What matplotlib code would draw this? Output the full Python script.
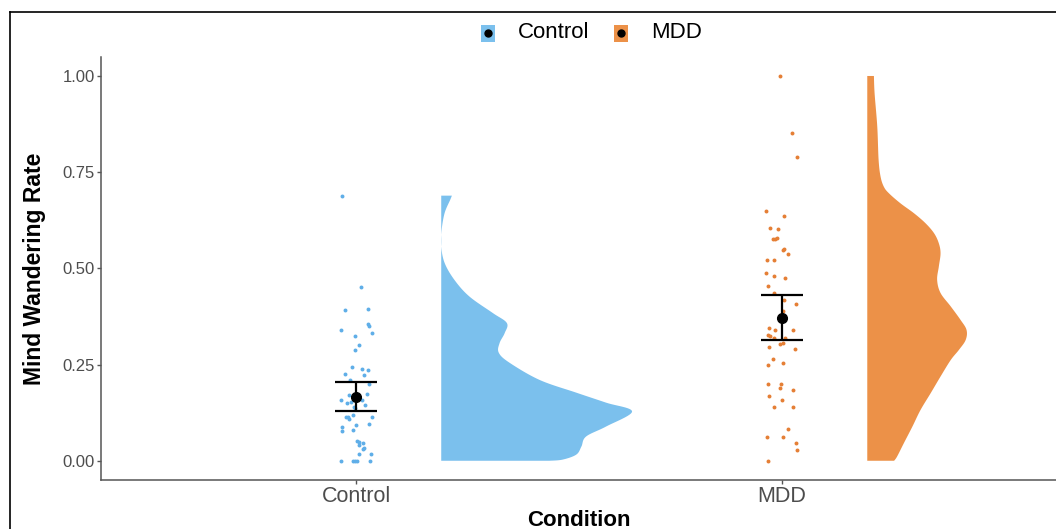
import numpy as np
import matplotlib
matplotlib.use("Agg")
import matplotlib.pyplot as plt
from matplotlib.patches import Rectangle, Polygon
from matplotlib.lines import Line2D

plt.rcParams['font.family'] = ['Liberation Sans', 'DejaVu Sans']

# ---------------- data ----------------
categories = ["Control", "MDD"]
colors = ["#7BC0ED", "#EC9148"]
point_colors = ["#5FAEE8", "#E57F35"]

control_values = [0.689, 0.451, 0.392, 0.395, 0.356, 0.351, 0.339, 0.332, 0.325, 0.300,
                  0.289, 0.244, 0.239, 0.235, 0.225, 0.222, 0.210, 0.200, 0.171, 0.173,
                  0.159, 0.151, 0.154, 0.159, 0.141, 0.137, 0.144, 0.115, 0.114, 0.108,
                  0.119, 0.115, 0.088, 0.078, 0.092, 0.081, 0.095, 0.052, 0.050, 0.047,
                  0.040, 0.034, 0.031, 0.018, 0.018, 0.0, 0.0, 0.0, 0.0, 0.0]
control_jitter = [-0.034, 0.012, -0.025, 0.027, 0.029, 0.031, -0.036, 0.038, -0.002, 0.006,
                  -0.003, -0.010, 0.013, 0.029, -0.026, 0.019, -0.014, 0.031, -0.016, 0.026,
                  -0.035, -0.022, -0.012, 0.013, -0.005, -0.002, 0.021, -0.024, -0.020, -0.016,
                  -0.006, 0.038, -0.034, -0.032, -0.001, -0.006, 0.031, 0.003, 0.006, 0.017,
                  0.006, 0.019, 0.016, 0.008, 0.036, -0.035, -0.006, -0.002, 0.003, 0.033]

mdd_values = [1.000, 0.852, 0.790, 0.649, 0.636, 0.604, 0.603, 0.577, 0.577, 0.579,
              0.551, 0.547, 0.538, 0.522, 0.522, 0.489, 0.480, 0.474, 0.455, 0.436,
              0.417, 0.407, 0.390, 0.344, 0.340, 0.340, 0.328, 0.324, 0.318, 0.320,
              0.306, 0.303, 0.291, 0.295, 0.265, 0.249, 0.255, 0.199, 0.199, 0.188,
              0.185, 0.169, 0.158, 0.141, 0.141, 0.082, 0.062, 0.062, 0.046, 0.027, 0.0]
mdd_jitter = [-0.006, 0.023, 0.034, -0.037, 0.004, -0.029, -0.009, -0.021, -0.016, -0.011,
              0.005, 0.003, 0.013, -0.035, -0.020, -0.037, -0.018, 0.007, -0.033, -0.020,
              0.004, 0.033, 0.003, -0.030, -0.016, 0.026, -0.034, -0.028, -0.020, 0.008,
              0.003, -0.005, 0.031, -0.030, -0.021, -0.032, 0.003, -0.034, -0.002, -0.006,
              0.026, -0.030, 0.000, -0.019, 0.026, 0.013, -0.036, 0.003, 0.032, 0.035, -0.034]

means = [0.167, 0.372]
ci_low = [0.130, 0.313]
ci_high = [0.205, 0.432]

# traced half-violin profiles (value, half width in x units)
control_dens_y = [0.689, 0.678, 0.644, 0.600, 0.557, 0.514, 0.470, 0.427, 0.384, 0.358,
                  0.332, 0.306, 0.281, 0.255, 0.210, 0.177, 0.151, 0.128, 0.089, 0.063,
                  0.037, 0.016, 0.003, 0.0]
control_dens_w = [0.025, 0.021, 0.008, 0.001, 0.0, 0.008, 0.031, 0.066, 0.121, 0.154,
                  0.149, 0.137, 0.135, 0.160, 0.231, 0.317, 0.387, 0.448, 0.387, 0.340,
                  0.329, 0.317, 0.285, 0.254]
mdd_dens_y = [1.0, 0.955, 0.868, 0.782, 0.738, 0.712, 0.695, 0.669, 0.643, 0.617,
              0.591, 0.565, 0.539, 0.505, 0.470, 0.436, 0.401, 0.366, 0.340, 0.314,
              0.288, 0.262, 0.219, 0.176, 0.132, 0.089, 0.046, 0.011, 0.0]
mdd_dens_w = [0.0156, 0.0172, 0.0235, 0.0266, 0.0313, 0.039, 0.051, 0.078, 0.110, 0.137,
              0.157, 0.168, 0.172, 0.168, 0.164, 0.172, 0.196, 0.219, 0.233, 0.231,
              0.215, 0.196, 0.172, 0.149, 0.125, 0.106, 0.086, 0.070, 0.063]

yticks = [0.0, 0.25, 0.5, 0.75, 1.0]
ytick_labels = ["0.00", "0.25", "0.50", "0.75", "1.00"]


def smooth_outline(xs, ys, n=12):
    """Catmull-Rom curve through the traced outline points (drawing only)."""
    P = np.column_stack([xs, ys]).astype(float)
    P = np.vstack([P[0], P, P[-1]])
    out = []
    t = np.linspace(0, 1, n, endpoint=False)[:, None]
    for i in range(1, len(P) - 2):
        p0, p1, p2, p3 = P[i - 1], P[i], P[i + 1], P[i + 2]
        c = 0.5 * ((2 * p1) + (-p0 + p2) * t + (2 * p0 - 5 * p1 + 4 * p2 - p3) * t ** 2
                   + (-p0 + 3 * p1 - 3 * p2 + p3) * t ** 3)
        out.append(c)
    out.append(P[-2][None, :])
    return np.vstack(out)


# ---------------- figure ----------------
W, H = 1056, 529
fig = plt.figure(figsize=(W / 100, H / 100), dpi=100)
fig.patch.set_facecolor("white")


def fx(px):
    return px / W


def fy(py):
    return 1 - py / H


ax = fig.add_axes([fx(101), fy(480), fx(1056 - 101), (480 - 56.75) / H])
ax.set_xlim(0.4014, 2.643)
ax.set_ylim(-0.05, 1.05)

positions = [1, 2]
points = [(control_jitter, control_values), (mdd_jitter, mdd_values)]
dens = [(control_dens_y, control_dens_w), (mdd_dens_y, mdd_dens_w)]
dens_offset = 0.2

for i, pos in enumerate(positions):
    dy, dw = dens[i]
    base = pos + dens_offset
    curve = smooth_outline(base + np.array(dw), np.array(dy))
    poly = np.vstack([[base, dy[0]], curve, [base, dy[-1]]])
    ax.add_patch(Polygon(poly, closed=True, facecolor=colors[i], edgecolor="none",
                         zorder=1))
    jx, vals = points[i]
    ax.scatter(pos + np.array(jx), vals, s=8, color=point_colors[i],
               linewidths=0, zorder=2)
    # error bar
    ax.plot([pos, pos], [ci_low[i], ci_high[i]], color="black", lw=1.6, zorder=3,
            solid_capstyle="butt")
    for v in (ci_low[i], ci_high[i]):
        ax.plot([pos - 0.05, pos + 0.05], [v, v], color="black", lw=1.6, zorder=3,
                solid_capstyle="butt")
    ax.plot([pos], [means[i]], marker="o", color="black", markersize=7, zorder=4)

for s in ["top", "right"]:
    ax.spines[s].set_visible(False)
for s in ["left", "bottom"]:
    ax.spines[s].set_color("#555555")
    ax.spines[s].set_linewidth(1.1)

ax.set_yticks(yticks)
ax.set_yticklabels(ytick_labels)
ax.set_xticks(positions)
ax.set_xticklabels(categories)
ax.tick_params(axis="y", colors="#555555", labelcolor="#4D4D4D", labelsize=12,
               length=3, width=1.0, pad=1.5)
ax.tick_params(axis="x", colors="#555555", labelcolor="#4D4D4D", labelsize=15.5,
               length=3, width=1.0, pad=1.5)

ax.set_ylabel("Mind Wandering Rate", fontsize=16.5, fontweight="bold", color="black",
              labelpad=12)
ax.set_xlabel("Condition", fontsize=16, fontweight="bold", color="black",
              labelpad=2)

# legend (manual)
for kx, col, label in [(481, colors[0], "Control"), (614, colors[1], "MDD")]:
    fig.add_artist(Rectangle((fx(kx), fy(41.5)), 14 / W, 17 / H,
                             transform=fig.transFigure, facecolor=col,
                             edgecolor="none"))
    fig.add_artist(Line2D([fx(kx + 7)], [fy(33)], marker="o", color="black",
                          markersize=5, transform=fig.transFigure))
    fig.text(fx(kx + 37), fy(33), label, fontsize=16, va="center", ha="left",
             color="black")

# outer frame
fig.add_artist(Line2D([fx(10), fx(10)], [fy(12), fy(540)], color="black", lw=1.2,
                      transform=fig.transFigure))
fig.add_artist(Line2D([fx(10), fx(1070)], [fy(12), fy(12)], color="black", lw=1.2,
                      transform=fig.transFigure))

fig.savefig("out.png", dpi=100, facecolor="white")
